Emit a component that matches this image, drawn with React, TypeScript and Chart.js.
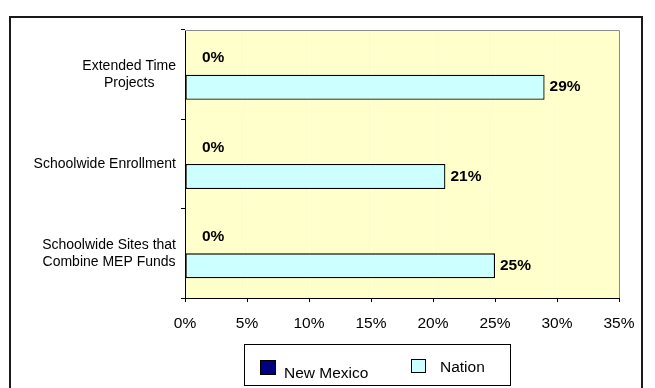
import React, { useEffect, useRef } from 'react';
import { Chart, registerables } from 'chart.js';

Chart.register(...registerables);

const categories: string[][] = [
  ['Extended Time', 'Projects'],
  ['Schoolwide Enrollment'],
  ['Schoolwide Sites that', 'Combine MEP Funds'],
];
const seriesNames = ['New Mexico', 'Nation'];
const newMexico = [0, 0, 0];
const nation = [29, 21, 25];
const axisMax = 35;
const axisStep = 5;

const FONT = '"Liberation Sans", Arial, Helvetica, sans-serif';

const framePlugin = {
  id: 'frame',
  beforeDraw(chart: any) {
    const { ctx, chartArea } = chart;
    ctx.save();
    ctx.fillStyle = '#FFFFFF';
    ctx.fillRect(0, 0, chart.width, chart.height);
    ctx.fillStyle = '#FFFFCC';
    ctx.fillRect(chartArea.left, chartArea.top, chartArea.right - chartArea.left, chartArea.bottom - chartArea.top);
    ctx.restore();
  },
  afterDraw(chart: any) {
    const { ctx, chartArea } = chart;
    ctx.save();
    // plot area border (top/right)
    ctx.strokeStyle = '#8C8C8C';
    ctx.lineWidth = 1;
    ctx.beginPath();
    ctx.moveTo(chartArea.left, chartArea.top + 0.5);
    ctx.lineTo(chartArea.right + 0.5, chartArea.top + 0.5);
    ctx.lineTo(chartArea.right + 0.5, chartArea.bottom);
    ctx.stroke();
    // outer frame
    ctx.strokeStyle = '#1A1A1A';
    ctx.lineWidth = 2;
    ctx.strokeRect(10, 17, 632, 400);

    // category labels
    const yScale = chart.scales.y;
    ctx.fillStyle = '#000';
    ctx.font = `14px ${FONT}`;
    ctx.textAlign = 'center';
    ctx.textBaseline = 'middle';
    const lineH = 17;
    categories.forEach((lines, i) => {
      const yc = yScale.getPixelForValue(i);
      const maxW = Math.max(...lines.map((l) => ctx.measureText(l).width));
      const cx = chartArea.left - 9 - maxW / 2;
      lines.forEach((l, j) => {
        const y = yc + (j - (lines.length - 1) / 2) * lineH;
        ctx.fillText(l, cx, y);
      });
    });

    // legend
    const lx = 244, ly = 344, lw = 266, lh = 41;
    ctx.strokeStyle = '#000';
    ctx.lineWidth = 1;
    ctx.strokeRect(lx + 0.5, ly + 0.5, lw, lh);
    const items = [
      { box: [260, 360, 16, 15], tx: 284, ty: 373.5 },
      { box: [411, 359, 15, 14], tx: 440, ty: 367.5 },
    ];
    chart.data.datasets.forEach((ds: any, i: number) => {
      const it = items[i];
      ctx.fillStyle = ds.backgroundColor;
      ctx.fillRect(it.box[0], it.box[1], it.box[2], it.box[3]);
      ctx.strokeStyle = '#000';
      ctx.strokeRect(it.box[0] + 0.5, it.box[1] + 0.5, it.box[2] - 1, it.box[3] - 1);
      ctx.fillStyle = '#000';
      ctx.font = `15.5px ${FONT}`;
      ctx.textAlign = 'left';
      ctx.textBaseline = 'middle';
      ctx.fillText(ds.label, it.tx, it.ty);
    });
    ctx.restore();
  },
  afterDatasetsDraw(chart: any) {
    const { ctx } = chart;
    ctx.save();
    ctx.fillStyle = '#000';
    ctx.font = `bold 15.5px ${FONT}`;
    ctx.textAlign = 'left';
    ctx.textBaseline = 'middle';
    chart.data.datasets.forEach((ds: any, di: number) => {
      const meta = chart.getDatasetMeta(di);
      meta.data.forEach((el: any, i: number) => {
        const v = ds.data[i];
        const txt = `${v}%`;
        if (v === 0) ctx.fillText(txt, el.x + 17, el.y - 4);
        else ctx.fillText(txt, el.x + 5, el.y);
      });
    });
    ctx.restore();
  },
};

export default function App() {
  const ref = useRef<HTMLCanvasElement>(null);
  useEffect(() => {
    if (!ref.current) return;
    const chart = new Chart(ref.current, {
      type: 'bar',
      data: {
        labels: categories.map((c) => c.join(' ')),
        datasets: [
          {
            label: seriesNames[0],
            data: newMexico,
            backgroundColor: '#000080',
            borderColor: '#000',
            borderWidth: 1.3,
            borderSkipped: false,
          },
          {
            label: seriesNames[1],
            data: nation,
            backgroundColor: '#CCFFFF',
            borderColor: '#000',
            borderWidth: 1.3,
            borderSkipped: false,
          },
        ],
      },
      options: {
        animation: false,
        responsive: false,
        indexAxis: 'y',
        layout: { padding: { top: 30, right: 36, left: 0, bottom: 0 } },
        datasets: { bar: { categoryPercentage: 0.56, barPercentage: 1 } },
        plugins: { legend: { display: false }, tooltip: { enabled: false } },
        scales: {
          x: {
            min: 0,
            max: axisMax,
            ticks: {
              stepSize: axisStep,
              callback: (v: any) => `${v}%`,
              color: '#000',
              font: { family: FONT, size: 15.5 },
              padding: 12,
              maxRotation: 0,
            },
            grid: {
              color: (c: any) =>
                c.tick && (c.tick.value === 0 || c.tick.value === axisMax) ? 'rgba(0,0,0,0)' : '#FFFFFF',
              tickColor: '#000',
              tickLength: 4,
              lineWidth: 1,
            },
            border: { color: '#000', width: 1 },
            afterFit: (s: any) => {
              s.height = 90;
            },
          },
          y: {
            ticks: { display: false },
            grid: { drawOnChartArea: false, color: '#000', tickColor: '#000', tickLength: 4, offset: true },
            border: { color: '#000', width: 1 },
            afterFit: (s: any) => {
              s.width = 185;
            },
          },
        },
      } as any,
      plugins: [framePlugin],
    });
    return () => chart.destroy();
  }, []);
  return (
    <div style={{ position: 'fixed', left: 0, top: 0, width: 655, height: 388, background: '#fff' }}>
      <canvas ref={ref} width={655} height={388} style={{ display: 'block' }} />
    </div>
  );
}
